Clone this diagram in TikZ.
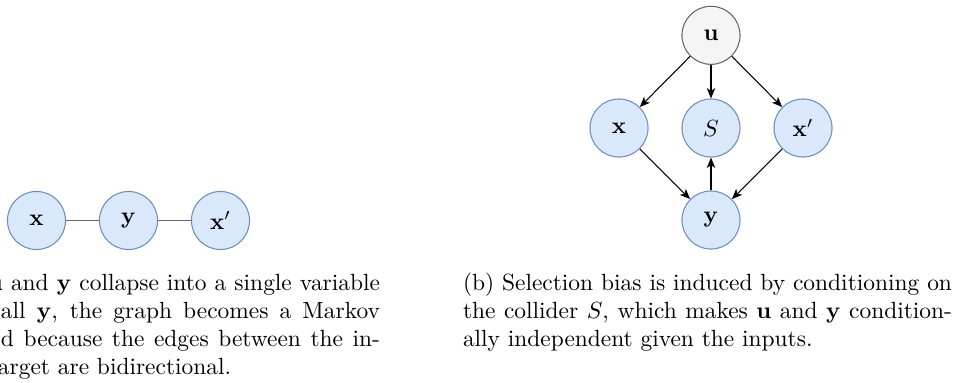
\documentclass[tikz,border=0pt]{standalone}
\usetikzlibrary{arrows.meta}

\definecolor{varfill}{HTML}{DAE8FC}
\definecolor{varline}{HTML}{6C8EBF}
\definecolor{latfill}{HTML}{F5F5F5}
\definecolor{latline}{HTML}{666666}
\definecolor{edgegray}{HTML}{666666}

\tikzset{
  var/.style={circle, draw=varline, fill=varfill, line width=0.45pt,
              minimum size=24.8pt, inner sep=0pt, font=\normalsize},
  latent/.style={var, draw=latline, fill=latfill},
  undirected/.style={draw=edgegray, line width=0.65pt},
  causal/.style={draw=black, line width=0.45pt,
                 -{Stealth[length=4.4pt, width=3.6pt, inset=1.2pt]}},
  capline/.style={anchor=base west, inner sep=0pt, outer sep=0pt},
}

\begin{document}
\begin{tikzpicture}[x=0.427pt, y=-0.427pt]
\useasboundingbox (0,0) rectangle (963,382);
\clip (0,0) rectangle (963,382);

% (a) undirected chain
\node[var] (ax)  at (36.5,220.5)  {$\mathbf{x}$};
\node[var] (ay)  at (128.5,220.5) {$\mathbf{y}$};
\node[var] (axp) at (220.5,220.5) {$\mathbf{x}'$};
\draw[undirected] (ax) -- (ay);
\draw[undirected] (ay) -- (axp);

% (a) caption, justified lines
\node[capline] (capa1) at (-12,290.5)
  {\hbox to 167.4pt{$\mathbf{u}$ and $\mathbf{y}$ collapse into a single variable}};
\node[capline] (capa2) at (1,318.6)
  {\hbox to 161.8pt{all $\mathbf{y}$, the graph becomes a Markov}};
\node[capline] (capa3) at (1,346.7)
  {\hbox to 161.8pt{d because the edges between the in-}};
\node[capline] (capa4) at (-2,374.8) {arget are bidirectional.};

% (b) selection bias graph
\node[latent] (u)  at (711,35.3) {$\mathbf{u}$};
\node[var]    (bx) at (619,128)  {$\mathbf{x}$};
\node[var]    (S)  at (711,128)  {$S$};
\node[var]    (bxp) at (803,128) {$\mathbf{x}'$};
\node[var]    (by) at (711,220)  {$\mathbf{y}$};

\draw[causal] (u) -- (bx);
\draw[causal] (u) -- (S);
\draw[causal] (u) -- (bxp);
\draw[causal] (bx) -- (by);
\draw[causal] (bxp) -- (by);
\draw[causal] (by) -- (S);

% (b) caption
\node[capline] (capb1) at (463,290.5)
  {\hbox to 208.8pt{(b) Selection bias is induced by conditioning on}};
\node[capline] (capb2) at (463,318.6)
  {\hbox to 208.8pt{the collider $S$, which makes $\mathbf{u}$ and $\mathbf{y}$ condition-}};
\node[capline] (capb3) at (463,346.7) {ally independent given the inputs.};
\end{tikzpicture}
\end{document}
